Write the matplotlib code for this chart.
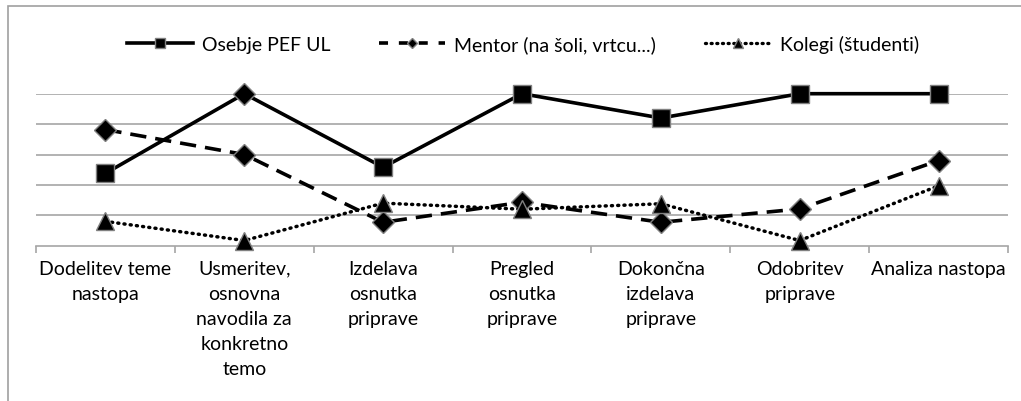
import numpy as np
import matplotlib.pyplot as plt
from matplotlib.lines import Line2D
from matplotlib.patches import Rectangle

# =========================
# 数据
# =========================
categories = [
    "Dodelitev teme\nnastopa",
    "Usmeritev,\nosnovna\nnavodila za\nkonkretno\ntemo",
    "Izdelava\nosnutka\npriprave",
    "Pregled\nosnutka\npriprave",
    "Dokončna\nizdelava\npriprave",
    "Odobritev\npriprave",
    "Analiza nastopa",
]
osebje = [2.38, 5.0, 2.58, 5.0, 4.2, 5.0, 5.0]
mentor = [3.82, 3.0, 0.77, 1.43, 0.77, 1.21, 2.8]
kolegi = [0.8, 0.17, 1.4, 1.2, 1.38, 0.17, 1.97]
osebje_markers = ["s", "D", "s", "s", "s", "s", "s"]

series_names = ["Osebje PEF UL", "Mentor (na šoli, vrtcu...)", "Kolegi (študenti)"]

plt.rcParams["font.family"] = ["Lato", "DejaVu Sans"]

fig = plt.figure(figsize=(10.21, 4.02), dpi=100)
ax = fig.add_axes([36 / 1021, 1 - 246.7 / 402, 972 / 1021, 152 / 402])

x = np.arange(len(categories))
edge = "#808080"

# gridlines
for yv in [1, 2, 3, 4, 5]:
    ax.axhline(yv, color="#a6a6a6", lw=1.2, zorder=0)

ax.plot(x, osebje, color="black", lw=2.6, ls="-", zorder=2, clip_on=False)
for xi, yi, mk in zip(x, osebje, osebje_markers):
    ms = 13.5 if mk == "s" else 11
    ax.plot([xi], [yi], marker=mk, ms=ms, color="black", mec=edge, mew=1,
            zorder=3, clip_on=False)

ax.plot(x, mentor, color="black", lw=2.6, ls=(0, (4.5, 2.5)), marker="D",
        ms=11, mec=edge, mew=1, zorder=4, clip_on=False)
ax.plot(x, kolegi, color="black", lw=2.5, ls=(0, (0.3, 1.5)), dash_capstyle="round",
        marker="^", ms=13.5, mec=edge, mew=1, zorder=5, clip_on=False)

ax.set_xlim(-0.5, len(categories) - 0.5)
ax.set_ylim(0, 5)
ax.set_yticks([])
for s in ["top", "right", "left"]:
    ax.spines[s].set_visible(False)
ax.spines["bottom"].set_color("#a6a6a6")
ax.spines["bottom"].set_linewidth(1.2)

ax.set_xticks(x)
ax.set_xticklabels(categories, fontsize=14, linespacing=1.57, va="top")
ax.tick_params(axis="x", which="major", length=0, pad=10)
ax.set_xticks(np.arange(len(categories) + 1) - 0.5, minor=True)
ax.tick_params(axis="x", which="minor", length=5, color="#a6a6a6", width=1.2)

# legend
handles = [
    Line2D([], [], color="black", lw=2.6, marker="s", ms=7, mec=edge),
    Line2D([], [], color="black", lw=2.6, ls=(0, (2.5, 3)), marker="D", ms=5, mec=edge),
    Line2D([], [], color="black", lw=2.4, ls=(0, (0.3, 1.4)), dash_capstyle="round",
           marker="^", ms=7, mec=edge),
]
fig.legend(handles, series_names, loc="center", bbox_to_anchor=(523 / 1021, 1 - 45 / 402),
           ncol=3, frameon=False, fontsize=14, handlelength=3.4, handletextpad=0.45,
           columnspacing=2.5, borderpad=0, borderaxespad=0)

# chart border
fig.add_artist(Rectangle((8 / 1021, -0.1), 1.2, 1 - 7 / 402 + 0.1, transform=fig.transFigure,
                         fill=False, edgecolor="#a0a0a0", lw=1.2))

fig.savefig("out.png", dpi=100)
